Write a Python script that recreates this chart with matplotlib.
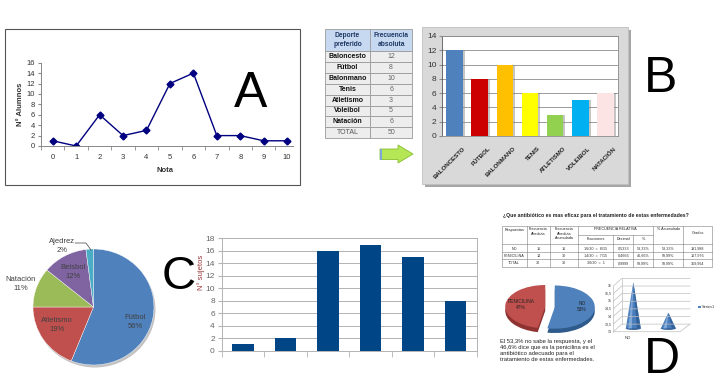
import matplotlib
matplotlib.use('Agg')
import matplotlib.pyplot as plt
from matplotlib.patches import Rectangle, Polygon, Ellipse
import numpy as np

plt.rcParams['font.family'] = ['Liberation Sans', 'DejaVu Sans']

W, H = 720, 390

# A: alumnos por nota
notas = list(range(11))
alumnos = [1, 0, 6, 2, 3, 12, 14, 2, 2, 1, 1]

# B: deporte preferido
deportes = ['Baloncesto', 'Fútbol', 'Balonmano', 'Tenis', 'Atletismo', 'Voleibol', 'Natación']
frecuencia = [12, 8, 10, 6, 3, 5, 6]
colores_b = ['#4F81BD', '#CC0000', '#FFC000', '#FFFF00', '#92D050', '#00B0F0', '#FDE4E4']

# C: tarta de deportes
deportes_c = ['Fútbol', 'Atletismo', 'Natación', 'Beisbol', 'Ajedrez']
porcentaje_c = [56, 19, 11, 12, 2]
colores_c = ['#4F81BD', '#C0504D', '#9BBB59', '#8064A2', '#4BACC6']

# C: barras
sujetos = [1, 2, 16, 17, 15, 8]

# D: antibiotico
respuestas = ['NO', 'PENICILINA']
frec_abs = [16, 14]
porcentaje_d = [53, 47]
ticks_d = [13, 13.5, 14, 14.5, 15, 15.5, 16]
tabla_d = [
    ['NO', '16', '16', '16/30  =  8/15', '0,5333', '53,33%', '53,33%', '191,988'],
    ['PENICILINA', '14', '30', '14/30  =  7/15', '0,4666', '46,66%', '99,99%', '167,976'],
    ['TOTAL', '30', '30', '30/30  =  1', '0,9999', '99,99%', '99,99%', '359,964'],
]

fig = plt.figure(figsize=(7.2, 3.9), dpi=100)


def px_axes(x0, y0, x1, y1):
    return fig.add_axes([x0 / W, 1 - y1 / H, (x1 - x0) / W, (y1 - y0) / H])


def layer():
    a = px_axes(0, 0, W, H)
    a.set_xlim(0, W)
    a.set_ylim(H, 0)
    a.axis('off')
    return a


# background layer in pixel coordinates
bg = layer()

# ---------------- A ----------------
bg.add_patch(Rectangle((5, 29), 295, 156, fill=False, ec='#555555', lw=0.8))
ax_a = px_axes(41, 62.7, 293, 146)
ax_a.patch.set_alpha(0)
ax_a.plot(notas, alumnos, color='#000080', lw=1, marker='D', ms=3.5)
ax_a.set_xlim(-0.5, 10.25)
ax_a.set_ylim(0, 16)
ax_a.set_yticks(range(0, 17, 2))
ax_a.set_xticks(notas)
ax_a.set_xticks(np.arange(-0.5, 10.5, 1), minor=True)
ax_a.tick_params(axis='x', which='major', length=0, pad=6, labelsize=5.5, labelcolor='#333333')
ax_a.tick_params(axis='x', which='minor', length=3, color='#888888')
ax_a.tick_params(axis='y', length=2.5, pad=2, labelsize=5.5, labelcolor='#333333', color='#888888')
for s in ['top', 'right']:
    ax_a.spines[s].set_visible(False)
for s in ['left', 'bottom']:
    ax_a.spines[s].set_color('#888888')
    ax_a.spines[s].set_linewidth(0.7)
bg.text(165, 170, 'Nota', fontsize=5.5, fontweight='bold', ha='center', va='center', color='#333333')
bg.text(20, 104, 'N° Alumnos', fontsize=5.5, fontweight='bold', ha='center', va='center',
        rotation=90, color='#333333')

# ---------------- B: tabla ----------------
tx = [324.7, 370.3, 412]
row_y = [29, 51] + [51 + 10.9 * (i + 1) for i in range(8)]
bg.add_patch(Rectangle((tx[0], row_y[0]), tx[2] - tx[0], row_y[1] - row_y[0],
                       fc='#C6D9F1', ec='#9A9A9A', lw=0.6))
bg.plot([tx[1], tx[1]], [row_y[0], row_y[1]], color='#9A9A9A', lw=0.6)
bg.text((tx[0] + tx[1]) / 2, 40, 'Deporte\npreferido', fontsize=4.8, fontweight='bold',
        color='#1F3864', ha='center', va='center', linespacing=1.3)
bg.text((tx[1] + tx[2]) / 2, 40, 'Frecuencia\nabsoluta', fontsize=4.8, fontweight='bold',
        color='#1F3864', ha='center', va='center', linespacing=1.3)
etiquetas_tabla = deportes + ['TOTAL']
valores_tabla = frecuencia + [sum(frecuencia)]
for i, (lab, val) in enumerate(zip(etiquetas_tabla, valores_tabla)):
    y0, y1 = row_y[i + 1], row_y[i + 2]
    for c in range(2):
        bg.add_patch(Rectangle((tx[c], y0), tx[c + 1] - tx[c], y1 - y0,
                               fc='#EDEDED', ec='#9A9A9A', lw=0.6))
    bold = 'normal' if lab == 'TOTAL' else 'bold'
    col = '#555555' if lab == 'TOTAL' else '#111111'
    bg.text((tx[0] + tx[1]) / 2, (y0 + y1) / 2, lab, fontsize=5, fontweight=bold, color=col,
            ha='center', va='center')
    bg.text((tx[1] + tx[2]) / 2, (y0 + y1) / 2, str(val), fontsize=5, color='#666666',
            ha='center', va='center')

# arrow
bg.add_patch(Polygon([(380, 149), (398, 149), (398, 145), (413, 154), (398, 163), (398, 159.5),
                      (380, 159.5)], closed=True, fc='#B5E655', ec='#86BF2E', lw=0.6))
bg.add_patch(Rectangle((379.7, 149), 2.2, 10.5, fc='#7FA7D6', ec='none'))

# ---------------- B: barras ----------------
bg.add_patch(Rectangle((425, 30), 206, 157, fc='#A6A6A6', ec='none'))
bg.add_patch(Rectangle((422, 27), 206, 157, fc='#D9D9D9', ec='#BFBFBF', lw=0.6))
ax_b = px_axes(442, 36, 618, 136)
xb = np.arange(len(deportes))
ax_b.bar(xb + 0.08, frecuencia, width=0.66, color='#7F7F7F', alpha=0.45, zorder=2)
ax_b.bar(xb, frecuencia, width=0.66, color=colores_b, zorder=3)
ax_b.set_xlim(-0.5, 6.5)
ax_b.set_ylim(0, 14)
ax_b.set_yticks(range(0, 15, 2))
ax_b.set_xticks([])
ax_b.yaxis.grid(True, color='#8C8C8C', lw=0.6)
ax_b.set_axisbelow(True)
ax_b.tick_params(axis='y', length=2, pad=2, labelsize=6, labelcolor='#333333', color='#8C8C8C')
for s in ax_b.spines.values():
    s.set_color('#8C8C8C')
    s.set_linewidth(0.6)
ax_b.spines['left'].set_color('#555555')
for i, lab in enumerate(deportes):
    ax_b.text(i + 0.32, -1.4, lab.upper(), fontsize=4.4, fontweight='bold', color='#222222',
              rotation=45, ha='right', va='top', rotation_mode='anchor', clip_on=False)

# ---------------- C: tarta ----------------
bg.add_patch(Ellipse((95, 309.5), 121, 116, fc='#555555', alpha=0.35, ec='none'))
ax_c = px_axes(33, 249, 154, 365)
ax_c.pie(porcentaje_c, colors=colores_c, startangle=90, counterclock=False,
         wedgeprops=dict(ec='white', lw=0.3))
ax_c.set_aspect('auto')
ax_c.set_xlim(-1, 1)
ax_c.set_ylim(-1, 1)

# ---------------- C: barras ----------------
ax_c2 = px_axes(221.7, 238.3, 476.7, 350.7)
xc = np.arange(len(sujetos))
ax_c2.bar(xc, sujetos, width=0.5, color='#004586', zorder=3)
ax_c2.set_xlim(-0.5, 5.5)
ax_c2.set_ylim(0, 18)
ax_c2.set_yticks(range(0, 19, 2))
ax_c2.set_xticks([])
ax_c2.set_xticks(np.arange(-0.5, 6, 1), minor=True)
ax_c2.tick_params(axis='x', which='minor', length=4, color='#B3B3B3')
ax_c2.yaxis.grid(True, color='#B3B3B3', lw=0.7)
ax_c2.set_axisbelow(True)
ax_c2.tick_params(axis='y', length=3, pad=2, labelsize=6, labelcolor='#666666', color='#B3B3B3')
for s in ax_c2.spines.values():
    s.set_color('#B3B3B3')
    s.set_linewidth(0.7)

# ---------------- D: titulo y tabla ----------------
bg.text(503, 215.7, '¿Que antibiótico es mas eficaz para el tratamiento de estas enfermedades?',
        fontsize=3.7, fontweight='bold', color='#222222', ha='left', va='center')
cx = [501.7, 526.7, 550, 578.3, 613.3, 633.3, 653.3, 683.3, 711.7]
ry = [226, 235, 244.3, 251.7, 259, 266.7]
lc = '#7F7F7F'
bg.add_patch(Rectangle((cx[0], ry[0]), cx[-1] - cx[0], ry[-1] - ry[0], fill=False, ec=lc, lw=0.4))
for i, x in enumerate(cx[1:-1], start=1):
    top = ry[1] if i in (4, 5) else ry[0]
    bg.plot([x, x], [top, ry[-1]], color=lc, lw=0.4)
bg.plot([cx[3], cx[6]], [ry[1], ry[1]], color=lc, lw=0.4)
for y in ry[2:-1]:
    bg.plot([cx[0], cx[-1]], [y, y], color=lc, lw=0.4)
th = dict(fontsize=2.7, color='#222222', ha='center', va='top', linespacing=1.1)
bg.text((cx[0] + cx[1]) / 2, ry[0] + 1.5, 'Respuestas', **th)
bg.text((cx[1] + cx[2]) / 2, ry[0] + 1.5, 'Frecuencia\nAbsoluta', **th)
bg.text((cx[2] + cx[3]) / 2, ry[0] + 1.5, 'Frecuencia\nAbsoluta\nAcumulada', **th)
bg.text((cx[3] + cx[6]) / 2, ry[0] + 1.5, 'FRECUENCIA RELATIVA', **th)
bg.text((cx[6] + cx[7]) / 2, ry[0] + 1.5, '% Acumulado', **th)
bg.text((cx[7] + cx[8]) / 2, ry[0] + 4.5, 'Grados', **th)
bg.text((cx[3] + cx[4]) / 2, ry[1] + 2.5, 'Fracciones', **th)
bg.text((cx[4] + cx[5]) / 2, ry[1] + 2.5, 'Decimal', **th)
bg.text((cx[5] + cx[6]) / 2, ry[1] + 2.5, '%', **th)
for r, fila in enumerate(tabla_d):
    for c, val in enumerate(fila):
        bg.text((cx[c] + cx[c + 1]) / 2, (ry[r + 2] + ry[r + 3]) / 2 + 0.5, val, fontsize=2.7,
                color='#333333', ha='center', va='center')

# ---------------- D: tarta 3D ----------------
ax_d = px_axes(498, 282, 602, 336)
ax_d.pie(porcentaje_d, colors=['#2F5A8C', '#8E3331'], startangle=90, counterclock=False,
         explode=(0.12, 0.12), center=(0, -0.2))
ax_d.pie(porcentaje_d, colors=['#4F81BD', '#C0504D'], startangle=90, counterclock=False,
         explode=(0.12, 0.12), center=(0, 0))
ax_d.set_aspect('auto')
ax_d.set_xlim(-1.3, 1.3)
ax_d.set_ylim(-1.35, 1.15)
ax_d.text(0.8, 0.0, 'NO\n53%', fontsize=3.5, color='#222222', ha='center', va='center')
ax_d.text(-0.72, 0.12, 'PENICILINA\n47%', fontsize=3.5, color='#222222', ha='center', va='center')

# ---------------- D: conos ----------------
ax_e = px_axes(606, 274, 700, 336)
ax_e.set_xlim(0, 94)
ax_e.set_ylim(12.72, 16.79)
ax_e.axis('off')
gc = '#BFBFBF'
x_front, x_back, x_end, x_floor = 7.3, 15.7, 84, 74
for v in ticks_d:
    ax_e.plot([x_front, x_back, x_end], [v, v + 0.5, v + 0.5], color=gc, lw=0.5)
    ax_e.text(x_front - 1.5, v, str(v).replace('.', ','), fontsize=2.6, color='#333333',
              ha='right', va='center')
ax_e.plot([x_front, x_front], [ticks_d[0], ticks_d[-1]], color=gc, lw=0.5)
ax_e.plot([x_back, x_back], [ticks_d[0] + 0.5, ticks_d[-1] + 0.5], color=gc, lw=0.5)
ax_e.plot([x_front, x_floor, x_end], [ticks_d[0], ticks_d[0], ticks_d[0] + 0.5], color=gc, lw=0.5)
x_conos = [27.3, 62.3]
base = ticks_d[0] + 0.22
for xcn, v in zip(x_conos, frec_abs):
    tip = v + 0.25
    ax_e.add_patch(Ellipse((xcn, base), 15, 0.2, fc='#2E5C94', ec='none'))
    ax_e.add_patch(Polygon([(xcn, tip), (xcn - 7.5, base), (xcn + 7.5, base)], closed=True,
                           fc='#4A7DBB', ec='none'))
    ax_e.add_patch(Polygon([(xcn, tip), (xcn - 5, base), (xcn - 1.5, base)], closed=True,
                           fc='#8DB4E2', ec='none', alpha=0.8))
    ax_e.add_patch(Polygon([(xcn, tip), (xcn + 3.5, base), (xcn + 7.5, base)], closed=True,
                           fc='#2E5C94', ec='none', alpha=0.8))

# ---------------- top layer: labels and letters ----------------
top = layer()
txt_c = dict(fontsize=5.5, color='#404040', ha='center', va='center', linespacing=1.3)
top.text(135, 322, 'Fútbol\n56%', **txt_c)
top.text(57, 325, 'Atletismo\n19%', **txt_c)
top.text(21, 284, 'Natación\n11%', **txt_c)
top.text(73, 272, 'Beisbol\n12%', **txt_c)
top.text(62, 246, 'Ajedrez\n2%', **txt_c)
top.plot([75, 86, 91], [243, 243, 250], color='#404040', lw=0.5)

top.text(201, 272, 'N° sujetos', fontsize=5.5, color='#993333', rotation=90,
         ha='center', va='center')

top.text(628, 338, respuestas[0], fontsize=3, color='#333333', ha='center', va='center')
top.add_patch(Rectangle((698, 305.5), 2.5, 2.5, fc='#4F81BD', ec='none'))
top.text(702, 307, 'Series1', fontsize=2.8, color='#333333', ha='left', va='center')

top.text(500, 338.5, 'El 53,3% no sabe la respuesta, y el\n46,6% dice que es la penicilina es el\n'
         'antibiótico adecuado para el\ntratamiento de estas enfermedades.',
         fontsize=4.2, color='#222222', ha='left', va='top', linespacing=1.3)

letra = dict(fontsize=36, color='black', ha='center', va='baseline')
top.text(251, 107, 'A', **letra)
top.text(661, 92, 'B', **letra)
top.text(179, 289, 'C', fontsize=34, color='black', ha='center', va='baseline')
top.text(662, 373, 'D', **letra)

fig.savefig('out.png', dpi=100)
